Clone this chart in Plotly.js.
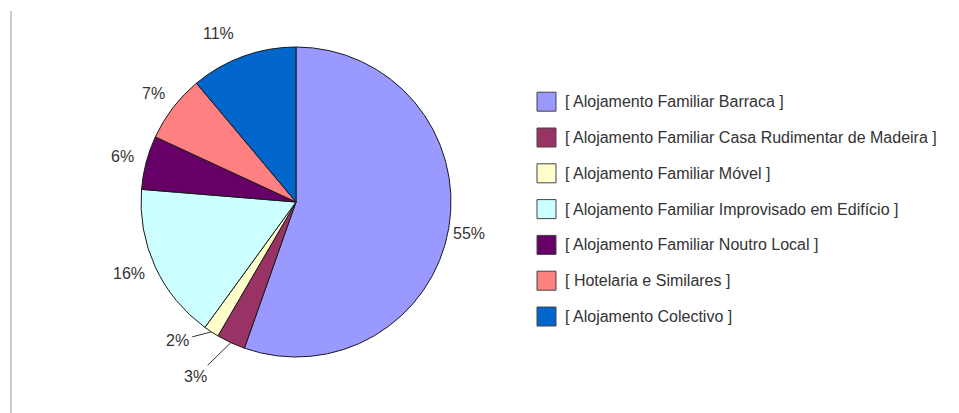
<!DOCTYPE html>
<html>
<head>
<meta charset="utf-8">
<script src="https://cdn.plot.ly/plotly-3.0.1.min.js"></script>
<style>
  html, body { margin: 0; padding: 0; background: #fff; }
  #chart { width: 959px; height: 413px; }
</style>
</head>
<body>
<div id="chart"></div>
<script>
// ---- Data ----
const categories = [
  "[ Alojamento Familiar Barraca ]",
  "[ Alojamento Familiar Casa Rudimentar de Madeira ]",
  "[ Alojamento Familiar Móvel ]",
  "[ Alojamento Familiar Improvisado em Edifício ]",
  "[ Alojamento Familiar Noutro Local ]",
  "[ Hotelaria e Similares ]",
  "[ Alojamento Colectivo ]"
];
const values = [55.4, 3.0, 1.6, 16.3, 5.6, 7.0, 11.1];
const colors = ["#9999FF", "#993366", "#FFFFCC", "#CCFFFF", "#660066", "#FF8080", "#0066CC"];

// ---- Layout constants (pixels) ----
const W = 959, H = 413;
const CX = 296, CY = 202, R = 155;       // pie centre and radius
const LABEL_DIST = R + 24;                // distance of outside labels
const SMALL = 0.04;                       // slices below this share get a leader line
const leaderOffsets = { 1: [-35, 34], 2: [-34, 9] };   // text offset from slice edge, px
const labelNudge = { 0: [-3, 1], 3: [-4, -3], 6: [-16, 0] }; // manual label placement tweaks, px
const LEG_SW_X0 = 537, LEG_SW = 19, LEG_TEXT_X = 563, LEG_Y0 = 101.7, LEG_STEP = 35.8;
const FONT = "Liberation Sans, Arial, sans-serif";
const TEXT_COLOR = "#333333";

const px = x => x / W;
const py = y => 1 - y / H;

const trace = {
  type: "pie",
  labels: categories,
  values: values,
  sort: false,
  direction: "clockwise",
  rotation: 0,
  textinfo: "none",
  hoverinfo: "label+percent",
  marker: { colors: colors, line: { color: "#1a1a1a", width: 1 } },
  domain: { x: [px(CX - R), px(CX + R)], y: [py(CY + R), py(CY - R)] },
  showlegend: false
};

const total = values.reduce((a, b) => a + b, 0);
const annotations = [];
const shapes = [];

// percentage labels, positioned from the slice angles
let cum = 0;
values.forEach((v, i) => {
  const share = v / total;
  const mid = (cum + v / 2) / total * 2 * Math.PI;
  cum += v;
  const s = Math.sin(mid), c = Math.cos(mid);
  const txt = Math.round(share * 100) + "%";
  if (share < SMALL && leaderOffsets[i]) {
    annotations.push({
      xref: "paper", yref: "paper",
      x: px(CX + R * s), y: py(CY - R * c),
      ax: leaderOffsets[i][0], ay: leaderOffsets[i][1],
      text: txt, showarrow: true, arrowhead: 0, arrowwidth: 1, arrowcolor: "#333333",
      standoff: 0, startstandoff: 2,
      font: { family: FONT, size: 16, color: TEXT_COLOR }
    });
  } else {
    const n = labelNudge[i] || [0, 0];
    annotations.push({
      xref: "paper", yref: "paper",
      x: px(CX + LABEL_DIST * s + n[0]), y: py(CY - LABEL_DIST * c + n[1]),
      text: txt, showarrow: false, xanchor: "center", yanchor: "middle",
      font: { family: FONT, size: 16, color: TEXT_COLOR }
    });
  }
});

// legend built from the categories / colours
categories.forEach((cat, i) => {
  const yc = LEG_Y0 + i * LEG_STEP;
  shapes.push({
    type: "rect", xref: "paper", yref: "paper",
    x0: px(LEG_SW_X0), x1: px(LEG_SW_X0 + LEG_SW),
    y0: py(yc + LEG_SW / 2), y1: py(yc - LEG_SW / 2),
    fillcolor: colors[i], line: { color: "#444444", width: 1 }
  });
  annotations.push({
    xref: "paper", yref: "paper", x: px(LEG_TEXT_X), y: py(yc),
    xanchor: "left", yanchor: "middle", showarrow: false,
    text: cat, font: { family: FONT, size: 16, color: TEXT_COLOR }
  });
});

// left frame line
shapes.push({
  type: "line", xref: "paper", yref: "paper",
  x0: px(11), x1: px(11), y0: py(11), y1: py(413),
  line: { color: "#cccccc", width: 2 }
});

const layout = {
  width: W, height: H,
  margin: { l: 0, r: 0, t: 0, b: 0 },
  paper_bgcolor: "#ffffff",
  plot_bgcolor: "#ffffff",
  showlegend: false,
  font: { family: FONT, color: TEXT_COLOR },
  annotations: annotations,
  shapes: shapes
};

Plotly.newPlot("chart", [trace], layout, { displayModeBar: false, responsive: false });
</script>
</body>
</html>
